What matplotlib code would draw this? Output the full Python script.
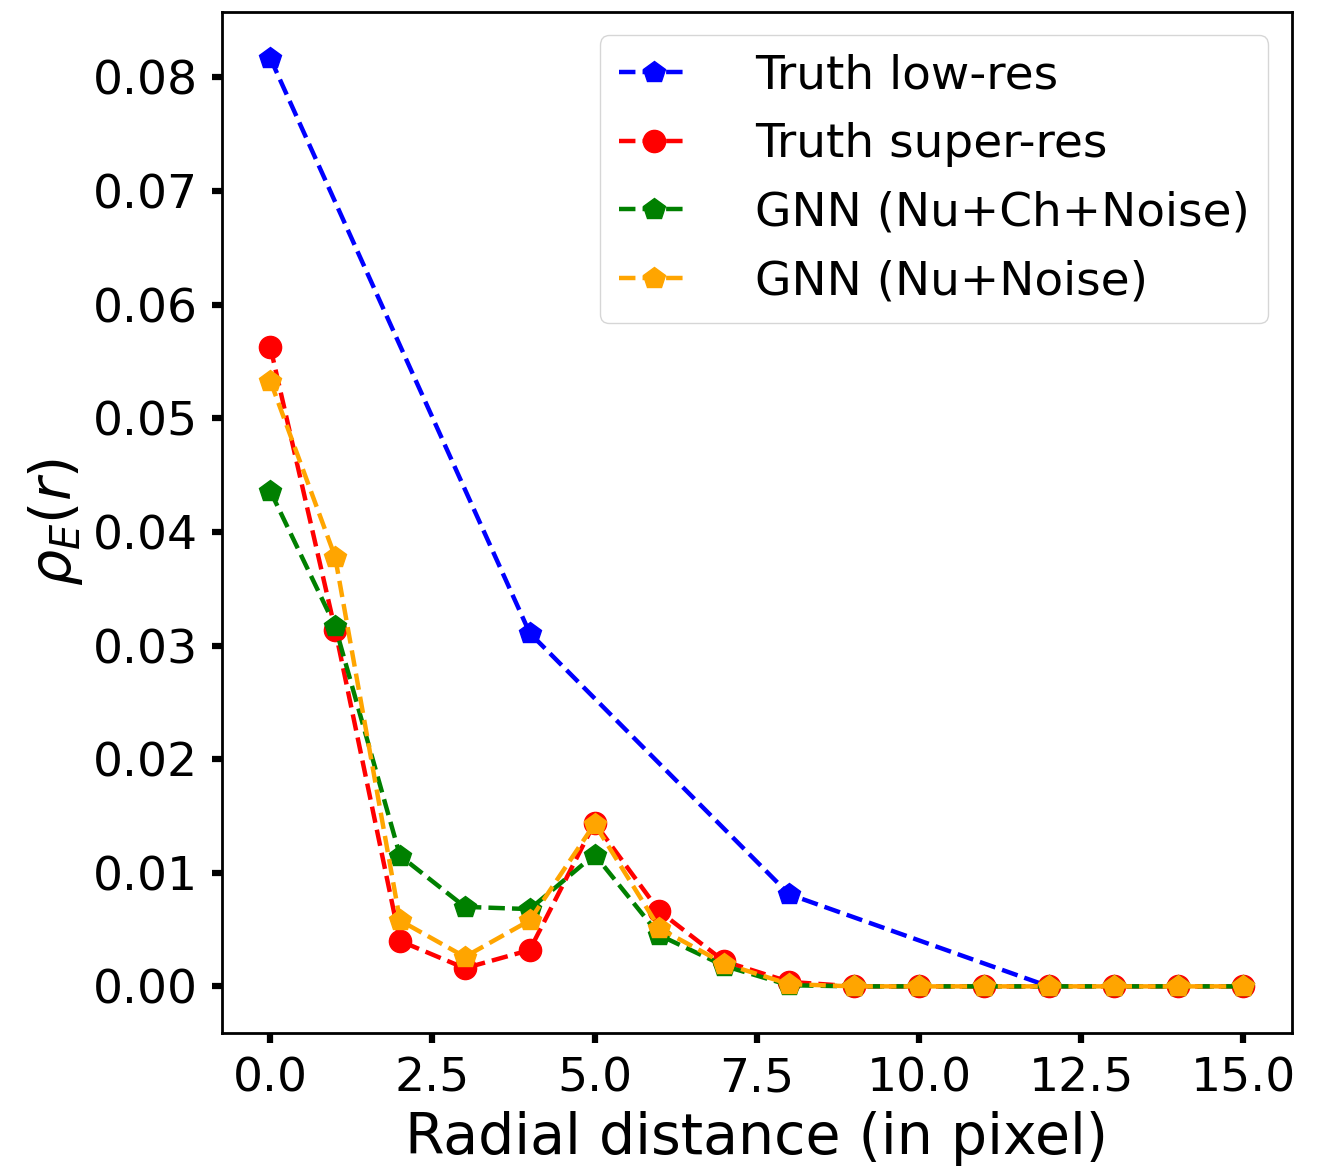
import numpy as np
import matplotlib
matplotlib.use("Agg")
import matplotlib.pyplot as plt

# radial profiles
r_low = [0, 4, 8, 12]
truth_low = [0.0817, 0.0311, 0.0081, 0.0]

r_sr = list(range(16))
truth_sr = [0.0563, 0.0314, 0.0040, 0.0016, 0.0032, 0.0144, 0.0066, 0.0022,
            0.0004, 0, 0, 0, 0, 0, 0, 0]
gnn_ch = [0.0436, 0.0317, 0.0115, 0.0070, 0.0068, 0.0116, 0.0045, 0.0018,
          0.0001, 0, 0, 0, 0, 0, 0, 0]
gnn_nu = [0.0533, 0.0378, 0.0058, 0.0026, 0.0058, 0.0143, 0.0051, 0.0020,
          0.0002, 0, 0, 0, 0, 0, 0, 0]

fig = plt.figure(figsize=(13.19, 11.67), dpi=100)
ax = fig.add_axes([0.168, 0.115, 0.8115, 0.875])

lw = 3.2
ms = 16
ax.plot(r_low, truth_low, '--p', color='blue', lw=lw, ms=ms, label='Truth low-res')
ax.plot(r_sr, truth_sr, '--o', color='red', lw=lw, ms=ms, label='Truth super-res')
ax.plot(r_sr, gnn_ch, '--p', color='green', lw=lw, ms=ms, label='GNN (Nu+Ch+Noise)')
ax.plot(r_sr, gnn_nu, '--p', color='orange', lw=lw, ms=ms, label='GNN (Nu+Noise)')

ax.set_xlabel('Radial distance (in pixel)', fontsize=41, labelpad=7)
ax.set_ylabel(r'$\rho_E(r)$', fontsize=41, labelpad=6)
ax.tick_params(labelsize=34, length=7, width=4.5, pad=10)
for s in ax.spines.values():
    s.set_linewidth(2)

ax.legend(loc='upper right', fontsize=33.8, handlelength=1.5, borderpad=0.4,
          labelspacing=0.5, handletextpad=1.4, borderaxespad=0.5)

fig.savefig('out.png', dpi=100)
